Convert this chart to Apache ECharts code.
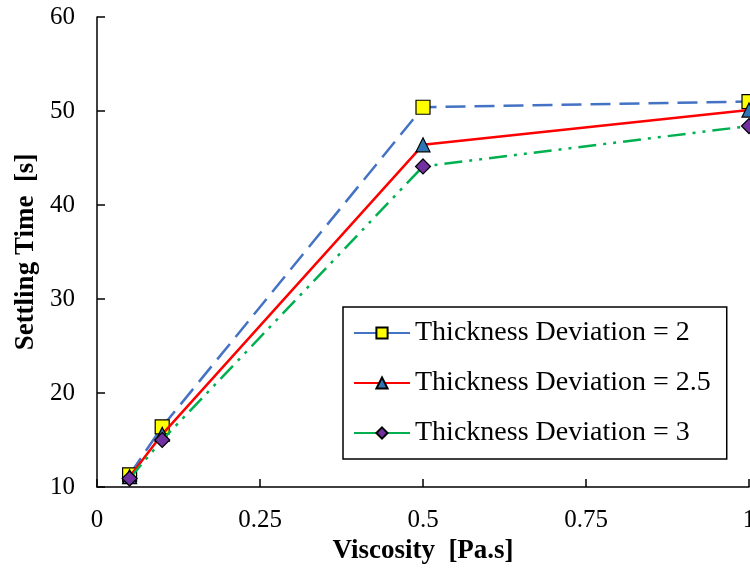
<!DOCTYPE html>
<html>
<head>
<meta charset="utf-8">
<script src="https://cdn.jsdelivr.net/npm/echarts@6/dist/echarts.min.js"></script>
<style>html,body{margin:0;padding:0;background:#fff}#main{width:750px;height:576px}</style>
</head>
<body>
<div id="main"></div>
<script>
var viscosity = [0.05, 0.1, 0.5, 1];
var dev2 = [11.3, 16.4, 50.4, 51.0];
var dev25 = [11.1, 15.6, 46.4, 50.1];
var dev3 = [10.9, 15.0, 44.1, 48.4];
var names = ['Thickness Deviation = 2', 'Thickness Deviation = 2.5', 'Thickness Deviation = 3'];

function pairs(ys) {
    return viscosity.map(function (x, i) { return [x, ys[i]]; });
}

var myChart = echarts.init(document.getElementById('main'));
var font = '"Liberation Serif", "Times New Roman", serif';
var option = {
    animation: false,
    backgroundColor: '#fff',
    textStyle: { fontFamily: font },
    grid: { left: 97, right: 1, top: 17, bottom: 89, containLabel: false, outerBoundsMode: 'none' },
    xAxis: {
        type: 'value', min: 0, max: 1, interval: 0.25,
        name: 'Viscosity  [Pa.s]', nameLocation: 'middle', nameGap: 48,
        nameTextStyle: { fontFamily: font, fontSize: 27, fontWeight: 'bold', color: '#000' },
        axisLine: { lineStyle: { color: '#000', width: 1.5 } },
        axisTick: { inside: true, length: 8, lineStyle: { color: '#000', width: 1.5 } },
        axisLabel: { fontFamily: font, fontSize: 25, color: '#000', margin: 21 },
        splitLine: { show: false }
    },
    yAxis: {
        type: 'value', min: 10, max: 60, interval: 10,
        name: 'Settling Time  [s]', nameLocation: 'middle', nameGap: 57, nameRotate: 90,
        nameTextStyle: { fontFamily: font, fontSize: 27, fontWeight: 'bold', color: '#000' },
        axisLine: { show: true, lineStyle: { color: '#000', width: 1.5 } },
        axisTick: { show: true, inside: true, length: 8, lineStyle: { color: '#000', width: 1.5 } },
        axisLabel: { fontFamily: font, fontSize: 25, color: '#000', margin: 22 },
        splitLine: { show: false }
    },
    legend: {
        orient: 'vertical', left: 343, top: 307,
        padding: [12, 16, 12, 10], itemGap: 22,
        borderColor: '#000', borderWidth: 1.5, backgroundColor: '#fff',
        itemWidth: 56, itemHeight: 14,
        lineStyle: { type: 'solid' },
        textStyle: { fontFamily: font, fontSize: 28, color: '#000' },
        data: names
    },
    series: [
        {
            name: names[0], type: 'line', data: pairs(dev2),
            symbol: 'rect', symbolSize: 14,
            itemStyle: { color: '#FFFF00', borderColor: '#000', borderWidth: 1.2 },
            lineStyle: { color: '#4472C4', width: 2.5, type: [20, 9] },
            z: 3
        },
        {
            name: names[1], type: 'line', data: pairs(dev25),
            symbol: 'triangle', symbolSize: 14,
            itemStyle: { color: '#2E75B6', borderColor: '#000', borderWidth: 1.2 },
            lineStyle: { color: '#FF0000', width: 2.5 },
            z: 4
        },
        {
            name: names[2], type: 'line', data: pairs(dev3),
            symbol: 'diamond', symbolSize: 15,
            itemStyle: { color: '#7030A0', borderColor: '#000', borderWidth: 1.2 },
            lineStyle: { color: '#00B050', width: 2.5, type: [18, 7, 3, 7, 3, 7] },
            z: 5
        }
    ]
};
myChart.setOption(option);
</script>
</body>
</html>
